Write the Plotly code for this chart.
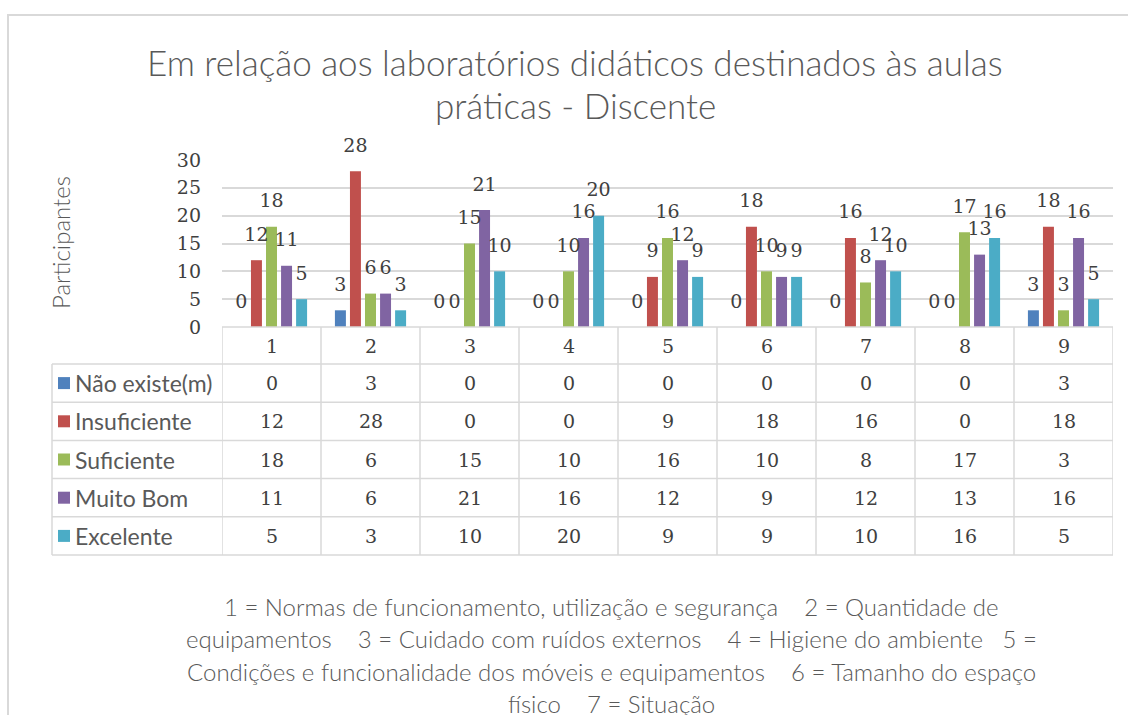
import plotly.graph_objects as go

# dados
categorias = [1, 2, 3, 4, 5, 6, 7, 8, 9]
series = ["Não existe(m)", "Insuficiente", "Suficiente", "Muito Bom", "Excelente"]
nao_existe = [0, 3, 0, 0, 0, 0, 0, 0, 3]
insuficiente = [12, 28, 0, 0, 9, 18, 16, 0, 18]
suficiente = [18, 6, 15, 10, 16, 10, 8, 17, 3]
muito_bom = [11, 6, 21, 16, 12, 9, 12, 13, 16]
excelente = [5, 3, 10, 20, 9, 9, 10, 16, 5]
cores = ["#4F81BD", "#C0504D", "#9BBB59", "#8064A2", "#4BACC6"]

titulo = ["Em relação aos laboratórios didáticos destinados às aulas", "práticas - Discente"]
rotulo_y = "Participantes"
rodape = [
    "1 = Normas de funcionamento, utilização e segurança\u00a0\u00a0\u00a0 2 = Quantidade de",
    "equipamentos\u00a0\u00a0\u00a0 3 = Cuidado com ruídos externos\u00a0\u00a0\u00a0 4 = Higiene do ambiente\u00a0\u00a0 5 =",
    "Condições e funcionalidade dos móveis e equipamentos\u00a0\u00a0\u00a0 6 = Tamanho do espaço",
    "físico\u00a0\u00a0\u00a0 7 = Situação",
]

valores = [nao_existe, insuficiente, suficiente, muito_bom, excelente]

W, H = 1128, 715
L, R, T, B = 222, 1113, 160, 327
SANS = "Lato, 'Open Sans', sans-serif"
SERIF = "'DejaVu Serif', serif"
CINZA = "#595959"
NUM = "#404040"
LINHA = "#d9d9d9"
GAP = 0.24


def px(x):
    return (x - L) / (R - L)


def py(y):
    return (B - y) / (B - T)


fig = go.Figure()
for nome, v, c in zip(series, valores, cores):
    fig.add_trace(go.Bar(x=categorias, y=v, name=nome, marker_color=c,
                         marker_line_width=0, hoverinfo="skip"))
# rótulos de dados (scatter agrupado alinhado às barras)
for nome, v in zip(series, valores):
    fig.add_trace(go.Scatter(
        x=categorias, y=v, name=nome, mode="text+markers", text=v,
        textposition="top center", cliponaxis=False,
        marker=dict(size=22, opacity=0),
        textfont=dict(family=SERIF, size=19, color=NUM), hoverinfo="skip",
    ))

shapes = []
ann = []

# moldura
shapes.append(dict(type="rect", xref="paper", yref="paper",
                   x0=px(8), x1=px(1140), y0=py(15), y1=py(730),
                   line=dict(color=LINHA, width=2), layer="below"))

# tabela de dados
header_bot = 364
row_h = 38.2
rows_y = [header_bot + i * row_h for i in range(len(series) + 1)]
tab_left = 52
shapes.append(dict(type="line", xref="paper", yref="paper", x0=0, x1=1,
                   y0=py(B), y1=py(B), line=dict(color=LINHA, width=1.5)))
for yy in rows_y:
    shapes.append(dict(type="line", xref="paper", yref="paper", x0=px(tab_left), x1=1,
                       y0=py(yy), y1=py(yy), line=dict(color=LINHA, width=1.5)))
shapes.append(dict(type="line", xref="paper", yref="paper", x0=px(tab_left), x1=px(tab_left),
                   y0=py(rows_y[0]), y1=py(rows_y[-1]), line=dict(color=LINHA, width=1.5)))
for k in range(len(categorias) + 1):
    xv = categorias[0] - 0.5 + k
    shapes.append(dict(type="line", xref="x", yref="paper", x0=xv, x1=xv,
                       y0=py(B), y1=py(rows_y[-1]), line=dict(color=LINHA, width=1.5)))

for c in categorias:
    ann.append(dict(x=c, y=py((B + header_bot) / 2), xref="x", yref="paper",
                    yanchor="middle", text=str(c), showarrow=False,
                    font=dict(family=SERIF, size=19, color=NUM)))

for i, (nome, v, cor) in enumerate(zip(series, valores, cores)):
    yc = (rows_y[i] + rows_y[i + 1]) / 2
    shapes.append(dict(type="rect", xref="paper", yref="paper",
                       x0=px(58), x1=px(70), y0=py(yc + 6), y1=py(yc - 6),
                       fillcolor=cor, line=dict(width=0)))
    ann.append(dict(x=px(73), y=py(yc), xref="paper", yref="paper", xanchor="left",
                    yanchor="middle", text=nome, showarrow=False,
                    font=dict(family=SANS, size=23, color=CINZA)))
    for c, val in zip(categorias, v):
        ann.append(dict(x=c, y=py(yc), xref="x", yref="paper", yanchor="middle",
                        text=str(val), showarrow=False,
                        font=dict(family=SERIF, size=19, color=NUM)))

# título
for j, linha in enumerate(titulo):
    ann.append(dict(x=px(575), y=py(62 + j * 43), xref="paper", yref="paper",
                    xanchor="center", yanchor="middle", text=linha, showarrow=False,
                    font=dict(family=SANS, size=35, color=CINZA, weight=300)))

# eixo y
ann.append(dict(x=px(60), y=py(243), xref="paper", yref="paper", textangle=-90,
                xanchor="center", yanchor="middle", text=rotulo_y, showarrow=False,
                font=dict(family=SANS, size=24, color=CINZA, weight=300)))

# rodapé
for j, linha in enumerate(rodape):
    ann.append(dict(x=px(611), y=py(606 + j * 32.5), xref="paper", yref="paper",
                    xanchor="center", yanchor="middle", text=linha, showarrow=False,
                    font=dict(family=SANS, size=24, color=CINZA, weight=300)))

fig.update_layout(
    width=W, height=H,
    margin=dict(l=L, r=W - R, t=T, b=H - B, pad=0),
    paper_bgcolor="white", plot_bgcolor="white",
    barmode="group", bargap=GAP, bargroupgap=0.27,
    scattermode="group", scattergap=GAP,
    showlegend=False,
    shapes=shapes, annotations=ann,
)
fig.update_xaxes(range=[0.5, 9.5], showticklabels=False, showgrid=False,
                 zeroline=False, showline=False)
fig.update_yaxes(range=[0, 30], dtick=5, showgrid=True, gridcolor=LINHA, gridwidth=1.5,
                 zeroline=False, showline=False, ticks="", ticklabelstandoff=20,
                 tickfont=dict(family=SERIF, size=19, color=NUM))

fig.write_html("out.html", config={"displayModeBar": False},
               post_script="document.body.style.margin='0';document.body.style.overflow='hidden';")
